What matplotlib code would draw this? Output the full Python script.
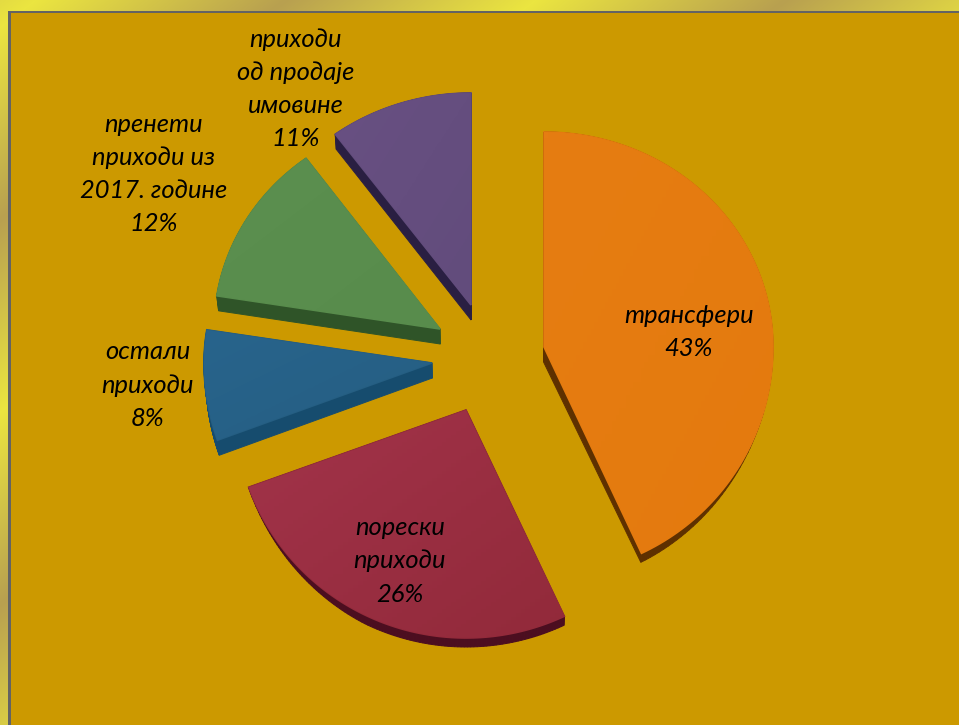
import numpy as np
import matplotlib
matplotlib.use("Agg")
import matplotlib.pyplot as plt
from matplotlib.colors import LinearSegmentedColormap
from matplotlib.patches import Polygon

plt.rcParams['font.family'] = ['Lato', 'Open Sans', 'DejaVu Sans']

categories = ['трансфери', 'порески\nприходи', 'остали\nприходи',
              'пренети\nприходи из\n2017. године', 'приходи\nод продаје\nимовине']
shares = [43.0, 26.5, 8.0, 12.4, 10.1]
percent_labels = ['43%', '26%', '8%', '12%', '11%']

top_colors = [('#E67D12', '#E47A0E'), ('#A2334A', '#922A3A'), ('#28648C', '#255E82'),
              ('#5B8F4F', '#588C4C'), ('#685082', '#624C7C')]
wall_colors = ['#5E3000', '#4C0E20', '#164C6E', '#2F5428', '#2A1F42']

# where the tip of each slice ends up, pixels
tips = [(544, 347), (466, 410), (432, 363), (440, 329), (471, 305)]
far_ry = [215, 212, 212, 212, 212]
rx = [229, 231, 228, 226, 229]
label_pos = [(689, 332), (400, 561), (148, 385), (154, 174), (296, 89)]

W, H = 959, 725
PANEL = '#CC9900'
RY_NEAR = 228


def outline(i, a0, a1):
    t = np.radians(np.linspace(a0, a1, 120))
    ry = np.where(np.cos(t) > 0, far_ry[i], RY_NEAR)
    xs = tips[i][0] + rx[i] * np.sin(t)
    ys = tips[i][1] - ry * np.cos(t)
    return np.vstack([[tips[i]], np.column_stack([xs, ys])])


def drop(i, p):
    # side wall: 15px in the back, thin on the rim of the two front slices
    dy = 15
    dist_x = (p[0] - tips[i][0]) / rx[i]
    dist_y = (p[1] - tips[i][1]) / RY_NEAR
    if i < 2 and np.hypot(dist_x, dist_y) > 0.9:
        dy = 9 * np.clip((dist_y - 0.3) / 0.6, 0, 1)
    return (p[0] + (480 - p[0]) * 0.007 * dy / 15, p[1] + dy)


fig = plt.figure(figsize=(W / 100, H / 100), dpi=100)
ax = fig.add_axes([0, 0, 1, 1])
ax.axis('off')

# frame: diagonal bands, yellow to tan and back
yy, xx = np.mgrid[0:H, 0:W]
phase = np.abs(((xx + 1.3 * yy - 35) % 500) / 250 - 1)
frame_cmap = LinearSegmentedColormap.from_list('frame', ['#B8A050', '#EBE540'])
ax.imshow(phase, cmap=frame_cmap, extent=(0, W, H, 0), aspect='auto', zorder=0)
ax.add_patch(plt.Rectangle((8, 11), W - 8, H - 11, fc='#636363', ec='none', zorder=1))
ax.add_patch(plt.Rectangle((10.5, 13), W - 10.5, H - 13, fc=PANEL, ec='none', zorder=2))

fracs = np.array(shares) / sum(shares) * 360
starts = np.concatenate([[0], np.cumsum(fracs)[:-1]])

for i in range(len(shares)):
    pts = outline(i, starts[i], starts[i] + fracs[i])
    # wall: one quad for every step of the outline
    closed = np.vstack([pts, pts[:1]])
    for p, q in zip(closed[:-1], closed[1:]):
        quad = [p, q, drop(i, q), drop(i, p)]
        ax.add_patch(Polygon(quad, closed=True, fc=wall_colors[i], ec=wall_colors[i], lw=0.7, zorder=3))
    ax.add_patch(Polygon(pts, closed=True, fc=top_colors[i][1], ec=top_colors[i][1], lw=1.2, zorder=4))
    top = Polygon(pts, closed=True, fc='none', ec='none', zorder=4)
    ax.add_patch(top)
    cmap = LinearSegmentedColormap.from_list('s%d' % i, top_colors[i])
    x0, y0 = pts.min(axis=0)
    x1, y1 = pts.max(axis=0)
    shade = np.linspace(0, 1, 64)[None, :] + np.linspace(0, 1, 64)[:, None]
    im = ax.imshow(shade, cmap=cmap, extent=(x0, x1, y1, y0), aspect='auto', zorder=4.5)
    im.set_clip_path(top)

ax.set_xlim(0, W)
ax.set_ylim(H, 0)

for name, pct, (x, y) in zip(categories, percent_labels, label_pos):
    ax.text(x, y, name + '\n' + pct, ha='center', va='center', style='italic', fontsize=18.4,
            linespacing=1.53, color='black', zorder=6)

fig.savefig('out.png', dpi=100)
